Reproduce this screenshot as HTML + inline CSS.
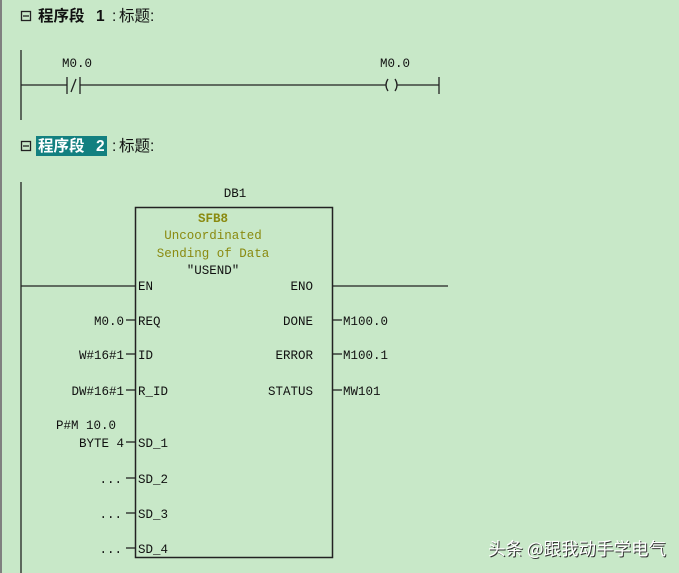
<!DOCTYPE html>
<html><head><meta charset="utf-8"><style>
html,body{margin:0;padding:0;width:679px;height:573px;overflow:hidden;background:#c8e8c8}
svg{display:block}
.t{font-family:"Liberation Mono",monospace;font-size:12.5px;fill:#111}
.o{font-family:"Liberation Mono",monospace;font-size:12.5px;fill:#8a8a10}
.h{font-family:"Liberation Sans","Noto Sans CJK SC",sans-serif;font-size:15.5px;font-weight:bold;fill:#111}
.n{font-family:"Liberation Sans","Noto Sans CJK SC",sans-serif;font-size:15.5px;fill:#111}
</style></head><body>
<svg width="679" height="573" viewBox="0 0 679 573">
<rect x="0" y="0" width="2" height="573" fill="#808080"/>
<g stroke="#222" stroke-width="1.3" fill="none">
<rect x="21.5" y="11.5" width="9" height="9"/>
<line x1="23" y1="16" x2="29" y2="16"/>
<rect x="21.5" y="141.5" width="9" height="9"/>
<line x1="23" y1="146" x2="29" y2="146"/>
<line x1="21" y1="50" x2="21" y2="120"/>
<line x1="21" y1="85" x2="67" y2="85"/>
<line x1="67" y1="77" x2="67" y2="94"/>
<line x1="80" y1="77" x2="80" y2="94"/>
<line x1="71" y1="92" x2="76" y2="79"/>
<line x1="80" y1="85" x2="386" y2="85"/>
<path d="M388 79 Q384 85 388 91"/>
<path d="M395 79 Q399 85 395 91"/>
<line x1="397" y1="85" x2="439" y2="85"/>
<line x1="439" y1="77" x2="439" y2="94"/>
<line x1="21" y1="182" x2="21" y2="573"/>
<rect x="135.5" y="207.5" width="197" height="350" stroke-width="1.5"/>
<line x1="21" y1="286" x2="135" y2="286"/>
<line x1="333" y1="286" x2="448" y2="286"/>
<line x1="126" y1="320" x2="135" y2="320"/>
<line x1="126" y1="354" x2="135" y2="354"/>
<line x1="126" y1="390" x2="135" y2="390"/>
<line x1="126" y1="442" x2="135" y2="442"/>
<line x1="126" y1="478" x2="135" y2="478"/>
<line x1="126" y1="513" x2="135" y2="513"/>
<line x1="126" y1="548" x2="135" y2="548"/>
<line x1="333" y1="320" x2="342" y2="320"/>
<line x1="333" y1="354" x2="342" y2="354"/>
<line x1="333" y1="390" x2="342" y2="390"/>
</g>
<text class="h" x="38" y="21">程序段</text>
<text class="h" x="96" y="21">1</text>
<text class="n" x="112" y="21">:</text>
<text class="n" x="119" y="21">标题:</text>
<rect x="36" y="136" width="71" height="20" fill="#138080"/>
<text class="h" x="38" y="151" style="fill:#fff">程序段</text>
<text class="h" x="96" y="151" style="fill:#fff">2</text>
<text class="n" x="112" y="151">:</text>
<text class="n" x="119" y="151">标题:</text>
<text class="t" x="62" y="67">M0.0</text>
<text class="t" x="380" y="67">M0.0</text>
<text class="t" x="235" y="197" text-anchor="middle">DB1</text>
<text class="o" x="213" y="222" text-anchor="middle" font-weight="bold">SFB8</text>
<text class="o" x="213" y="239" text-anchor="middle">Uncoordinated</text>
<text class="o" x="213" y="257" text-anchor="middle">Sending of Data</text>
<text class="t" x="213" y="274" text-anchor="middle">"USEND"</text>
<text class="t" x="138" y="290">EN</text>
<text class="t" x="313" y="290" text-anchor="end">ENO</text>
<text class="t" x="138" y="325">REQ</text>
<text class="t" x="138" y="359">ID</text>
<text class="t" x="138" y="395">R_ID</text>
<text class="t" x="138" y="447">SD_1</text>
<text class="t" x="138" y="483">SD_2</text>
<text class="t" x="138" y="518">SD_3</text>
<text class="t" x="138" y="553">SD_4</text>
<text class="t" x="313" y="325" text-anchor="end">DONE</text>
<text class="t" x="313" y="359" text-anchor="end">ERROR</text>
<text class="t" x="313" y="395" text-anchor="end">STATUS</text>
<text class="t" x="343" y="325">M100.0</text>
<text class="t" x="343" y="359">M100.1</text>
<text class="t" x="343" y="395">MW101</text>
<text class="t" x="124" y="325" text-anchor="end">M0.0</text>
<text class="t" x="124" y="359" text-anchor="end">W#16#1</text>
<text class="t" x="124" y="395" text-anchor="end">DW#16#1</text>
<text class="t" x="56" y="429">P#M 10.0</text>
<text class="t" x="124" y="447" text-anchor="end">BYTE 4</text>
<text class="t" x="122" y="483" text-anchor="end">...</text>
<text class="t" x="122" y="518" text-anchor="end">...</text>
<text class="t" x="122" y="553" text-anchor="end">...</text>
<text x="489" y="556" style="font-family:'Noto Sans CJK SC',sans-serif;font-size:17.5px;fill:#333">头条 @跟我动手学电气</text>
<text x="488" y="555" style="font-family:'Noto Sans CJK SC',sans-serif;font-size:17.5px;fill:#fff">头条 @跟我动手学电气</text>
</svg>
</body></html>
